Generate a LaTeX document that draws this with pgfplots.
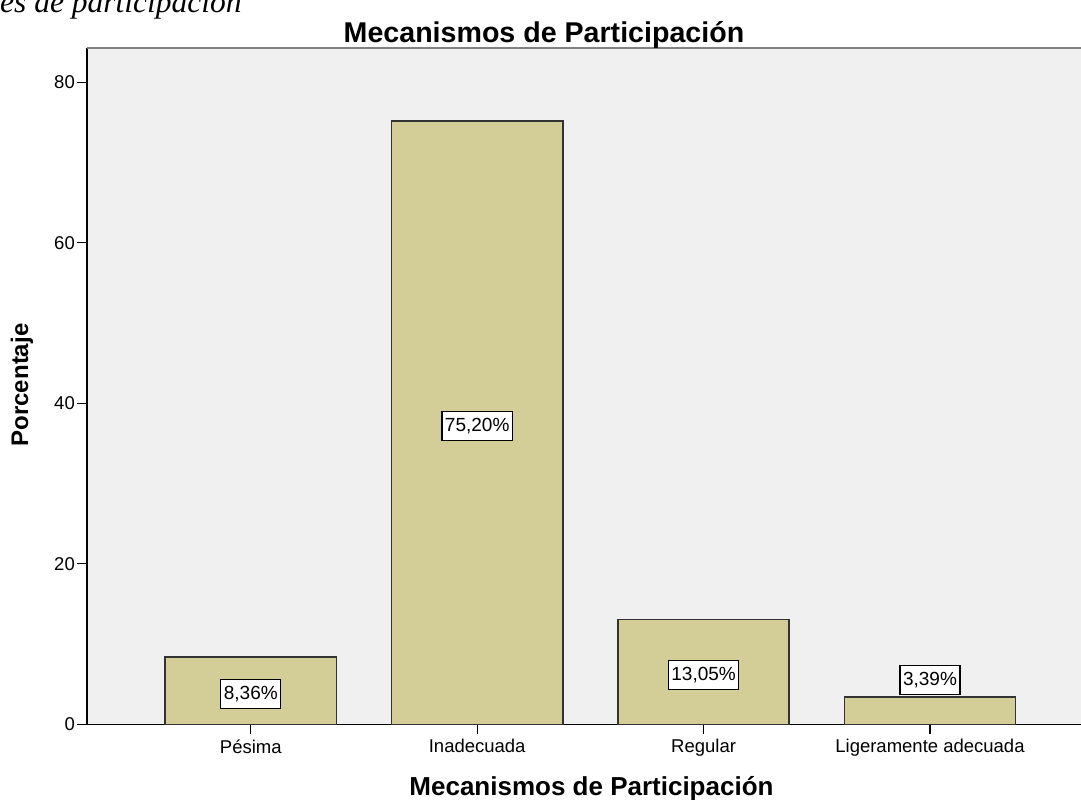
\documentclass[border=0pt]{standalone}
\usepackage{pgfplots}
\pgfplotsset{compat=1.18}
\usepackage{fontspec}
\setmainfont{Liberation Sans}
\newfontfamily\capfont{Liberation Serif}
\definecolor{barfill}{RGB}{211,206,151}
\definecolor{bg}{RGB}{240,240,240}
\definecolor{topline}{RGB}{130,130,130}
\begin{document}
\begin{tikzpicture}[x=1pt,y=1pt]
\path[use as bounding box] (0,0) rectangle (1081,800);
\begin{axis}[
 at={(87pt,75.7pt)}, anchor=south west,
 scale only axis, width=994pt, height=676.3pt,
 xmin=-0.7234, xmax=3.667, ymin=0, ymax=84.27,
 clip=false,
 axis x line*=bottom, axis y line*=left,
 axis line style={line width=1.3pt, -, black},
 axis background/.style={fill=bg},
 xtick={0,1,2,3},
 xticklabels={Pésima,Inadecuada,Regular,Ligeramente adecuada},
 ytick={0,20,40,60,80},
 tick align=outside, major tick length=10pt,
 tick style={line width=1.3pt, black},
 ticklabel style={font=\fontsize{18.5}{20}\selectfont},
 yticklabel style={inner sep=2pt},
 xticklabel style={inner sep=5pt},
 /pgf/number format/assume math mode=true,
]
\addplot[ybar, bar width=0.756, fill=barfill, draw=black!80, line width=1.5pt]
 coordinates {(0,8.36) (1,75.20) (2,13.05) (3,3.39)};
\addplot[draw=none, mark=none, nodes near coords, point meta=explicit symbolic,
 nodes near coords align=center,
 every node near coord/.style={fill=white, draw=black, line width=1.3pt,
   font=\fontsize{19}{20}\selectfont, inner xsep=3pt, inner ysep=0pt,
   minimum height=29pt, anchor=center}]
 coordinates {(0,3.8) [{8,36\%}] (1,37.2) [{75,20\%}] (2,6.1) [{13,05\%}] (3,5.5) [{3,39\%}]};
\draw[color=topline, line width=2.5pt] (rel axis cs:0,1) -- (rel axis cs:1,1);
\end{axis}
\node[anchor=base, font=\fontsize{28.6}{30}\selectfont\bfseries] at (544,757) {Mecanismos de Participación};
\node[anchor=base, font=\fontsize{26}{28}\selectfont\bfseries] at (591.5,5) {Mecanismos de Participación};
\node[anchor=base, rotate=90, font=\fontsize{24}{26}\selectfont\bfseries] at (28,415) {Porcentaje};
\node[anchor=base west, inner sep=0pt, font=\fontsize{31.5}{33}\capfont\itshape] at (0,787) {es de participación};
\end{tikzpicture}
\end{document}
